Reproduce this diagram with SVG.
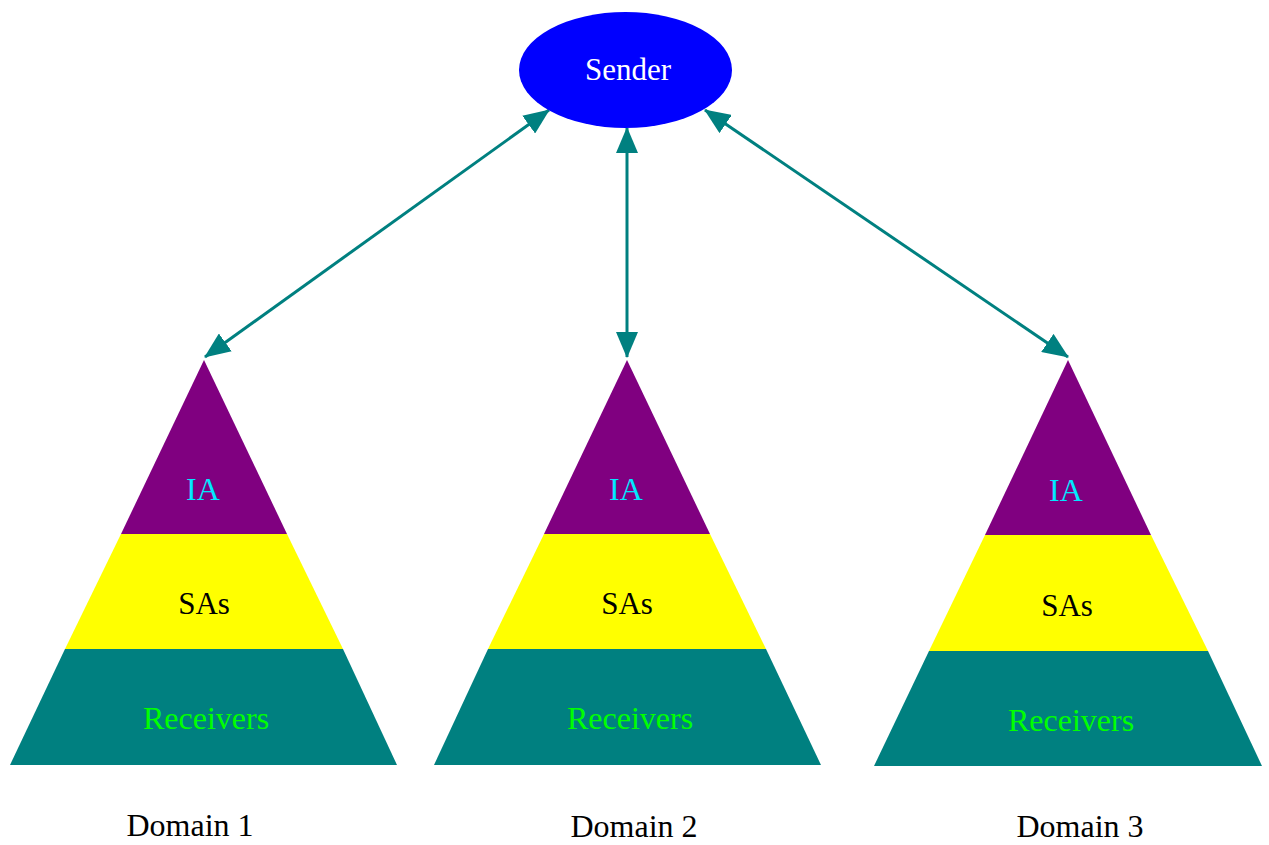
<svg xmlns="http://www.w3.org/2000/svg" width="1269" height="845" viewBox="0 0 1269 845">
  <style>
    .lbl { font-family: "Liberation Serif", "Times New Roman", serif; text-anchor: middle; }
    .ia { fill: #800080; }
    .sa { fill: #FFFF00; }
    .rc { fill: #008080; }
    .t-ia { fill: #00E8FF; font-size: 32px; }
    .t-sa { fill: #000000; font-size: 31px; }
    .t-rc { fill: #00FF00; font-size: 32px; }
    .dom { fill: #000000; font-size: 32px; }
    .link { stroke: #008080; stroke-width: 3; fill: none; marker-start: url(#head); marker-end: url(#head); }
  </style>
  <defs>
    <marker id="head" viewBox="0 0 26 22" refX="25" refY="11" markerWidth="26" markerHeight="22" markerUnits="userSpaceOnUse" orient="auto-start-reverse">
      <path d="M0,0 L26,11 L0,22 Z" fill="#008080"/>
    </marker>
  </defs>
  <rect width="1269" height="845" fill="#ffffff"/>

  <!-- double-headed links between the sender and each domain apex -->
  <g id="connectors">
    <line class="link" x1="549" y1="110" x2="205" y2="357"/>
    <line class="link" x1="627" y1="128" x2="627" y2="357"/>
    <line class="link" x1="705" y1="110" x2="1068" y2="357"/>
  </g>

  <g id="sender">
    <ellipse cx="625.5" cy="70" rx="106.5" ry="58" fill="#0000FF"/>
    <text class="lbl" x="628" y="80" fill="#ffffff" font-size="31">Sender</text>
  </g>

  <!-- each domain: three stacked bands of a triangle -->
  <g id="domain1">
    <polygon class="ia" points="204,360 287,534 121,534"/>
    <polygon class="sa" points="121,534 287,534 343,649 65,649"/>
    <polygon class="rc" points="65,649 343,649 397,765 10,765"/>
    <text class="lbl t-ia" x="203" y="500">IA</text>
    <text class="lbl t-sa" x="204" y="614">SAs</text>
    <text class="lbl t-rc" x="206" y="729">Receivers</text>
    <text class="lbl dom" x="190" y="836">Domain 1</text>
  </g>

  <g id="domain2">
    <polygon class="ia" points="627,360 710,534 544,534"/>
    <polygon class="sa" points="544,534 710,534 766,649 488,649"/>
    <polygon class="rc" points="488,649 766,649 821,765 434,765"/>
    <text class="lbl t-ia" x="626" y="500">IA</text>
    <text class="lbl t-sa" x="627" y="614">SAs</text>
    <text class="lbl t-rc" x="630" y="729">Receivers</text>
    <text class="lbl dom" x="634" y="837">Domain 2</text>
  </g>

  <g id="domain3">
    <polygon class="ia" points="1068,360 1151,535 985,535"/>
    <polygon class="sa" points="985,535 1151,535 1208,651 929,651"/>
    <polygon class="rc" points="929,651 1208,651 1262,766 874,766"/>
    <text class="lbl t-ia" x="1066" y="501">IA</text>
    <text class="lbl t-sa" x="1067" y="616">SAs</text>
    <text class="lbl t-rc" x="1071" y="731">Receivers</text>
    <text class="lbl dom" x="1080" y="837">Domain 3</text>
  </g>
</svg>
